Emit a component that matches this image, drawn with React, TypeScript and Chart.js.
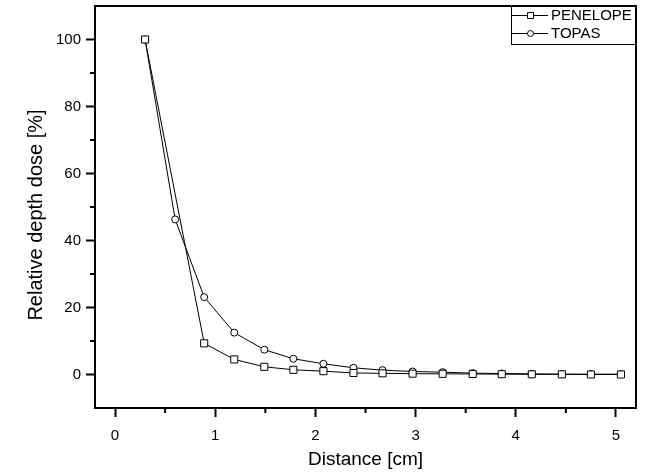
import React, { useEffect, useRef } from "react";
import { Chart, registerables } from "chart.js";

Chart.register(...registerables);

const seriesNames = ["PENELOPE", "TOPAS"];
const penelopeX = [0.3, 0.89, 1.19, 1.49, 1.78, 2.08, 2.38, 2.67, 2.97, 3.27, 3.57, 3.86, 4.16, 4.46, 4.75, 5.05];
const penelopeY = [100, 9.3, 4.5, 2.3, 1.4, 1.0, 0.45, 0.35, 0.25, 0.2, 0.15, 0.1, 0.05, 0.05, 0.0, 0.0];
const topasX = [0.3, 0.6, 0.89, 1.19, 1.49, 1.78, 2.08, 2.38, 2.67, 2.97, 3.27, 3.57, 3.86, 4.16, 4.46, 4.75, 5.05];
const topasY = [100, 46.3, 23.1, 12.5, 7.4, 4.7, 3.2, 2.0, 1.3, 0.9, 0.7, 0.4, 0.3, 0.2, 0.1, 0.1, 0.1];
const xTicks = [0, 1, 2, 3, 4, 5];
const yTicks = [0, 20, 40, 60, 80, 100];
const xMinorTicks = [0.5, 1.5, 2.5, 3.5, 4.5];
const yMinorTicks = [10, 30, 50, 70, 90];
const xTitle = "Distance [cm]";
const yTitle = "Relative depth dose [%]";

const FONT = "'Liberation Sans', Arial, sans-serif";

const extrasPlugin = {
  id: "extras",
  afterDraw(chart: any) {
    const { ctx, chartArea: a, scales } = chart;
    ctx.save();
    // frame
    ctx.strokeStyle = "#000";
    ctx.lineWidth = 2;
    ctx.strokeRect(a.left, a.top, a.right - a.left, a.bottom - a.top);
    // minor ticks
    ctx.beginPath();
    xMinorTicks.forEach((v) => {
      const px = scales.x.getPixelForValue(v);
      ctx.moveTo(px, a.bottom);
      ctx.lineTo(px, a.bottom + 5);
    });
    yMinorTicks.forEach((v) => {
      const py = scales.y.getPixelForValue(v);
      ctx.moveTo(a.left, py);
      ctx.lineTo(a.left - 5, py);
    });
    ctx.stroke();

    // y title
    ctx.save();
    ctx.translate(36, 215);
    ctx.rotate(-Math.PI / 2);
    ctx.font = `20px ${FONT}`;
    ctx.fillStyle = "#000";
    ctx.textAlign = "center";
    ctx.textBaseline = "middle";
    ctx.fillText(yTitle, 0, 0);
    ctx.restore();

    // legend box
    const bx = 511, by = a.top, bw = a.right - 511, bh = 44 - a.top;
    ctx.fillStyle = "#fff";
    ctx.fillRect(bx, by, bw, bh);
    ctx.lineWidth = 1;
    ctx.strokeStyle = "#000";
    ctx.strokeRect(bx + 0.5, by + 0.5, bw, bh);
    ctx.lineWidth = 2;
    ctx.strokeRect(a.left, a.top, a.right - a.left, a.bottom - a.top);

    const rows = [15, 33];
    ctx.font = `15px ${FONT}`;
    ctx.textAlign = "left";
    ctx.textBaseline = "middle";
    seriesNames.forEach((name, i) => {
      const y = rows[i] + 0.5;
      ctx.lineWidth = 1;
      ctx.strokeStyle = "#000";
      ctx.beginPath();
      ctx.moveTo(512, y);
      ctx.lineTo(548, y);
      ctx.stroke();
      ctx.fillStyle = "#fff";
      ctx.beginPath();
      if (i === 0) {
        ctx.rect(527.5, y - 3, 6, 6);
      } else {
        ctx.arc(530.5, y, 3, 0, Math.PI * 2);
      }
      ctx.fill();
      ctx.stroke();
      ctx.fillStyle = "#000";
      ctx.fillText(name, 551, y + 0.5);
    });
    ctx.restore();
  },
};

export default function App() {
  const ref = useRef<HTMLCanvasElement>(null);
  useEffect(() => {
    if (!ref.current) return;
    Chart.defaults.font.family = FONT;
    Chart.defaults.color = "#000";
    const chart = new Chart(ref.current, {
      type: "line",
      data: {
        datasets: [
          {
            label: seriesNames[0],
            data: penelopeX.map((x, i) => ({ x, y: penelopeY[i] })),
            borderColor: "#000",
            borderWidth: 1,
            pointStyle: "rect",
            pointRadius: 5,
            pointBackgroundColor: "#fff",
            pointBorderColor: "#000",
            pointBorderWidth: 1,
            tension: 0,
          },
          {
            label: seriesNames[1],
            data: topasX.map((x, i) => ({ x, y: topasY[i] })),
            borderColor: "#000",
            borderWidth: 1,
            pointStyle: "circle",
            pointRadius: 3.5,
            pointBackgroundColor: "#fff",
            pointBorderColor: "#000",
            pointBorderWidth: 1,
            tension: 0,
          },
        ],
      },
      options: {
        animation: false,
        responsive: false,
        devicePixelRatio: 1,
        layout: { padding: { top: 5, right: 20, left: 0, bottom: 0 } },
        plugins: { legend: { display: false }, tooltip: { enabled: false } },
        scales: {
          x: {
            type: "linear",
            min: -0.2,
            max: 5.2,
            afterBuildTicks: (s: any) => {
              s.ticks = xTicks.map((v) => ({ value: v }));
            },
            afterFit: (s: any) => {
              s.height = 65;
              s.paddingLeft = 0;
              s.paddingRight = 0;
            },
            grid: { drawOnChartArea: false, drawTicks: true, tickLength: 9, tickWidth: 2, tickColor: "#000" },
            border: { display: false },
            ticks: { autoSkip: false, maxRotation: 0, padding: 10, font: { size: 15 }, color: "#000", callback: (v: any) => String(v) },
            title: { display: true, text: xTitle, font: { size: 19 }, color: "#000", padding: { top: 0, bottom: 2 } },
          },
          y: {
            type: "linear",
            min: -10,
            max: 110,
            afterBuildTicks: (s: any) => {
              s.ticks = yTicks.map((v) => ({ value: v }));
            },
            afterFit: (s: any) => {
              s.width = 95;
              s.paddingTop = 0;
              s.paddingBottom = 0;
            },
            grid: { drawOnChartArea: false, drawTicks: true, tickLength: 9, tickWidth: 2, tickColor: "#000" },
            border: { display: false },
            ticks: { autoSkip: false, padding: 5, font: { size: 15 }, color: "#000", callback: (v: any) => String(v) },
          },
        },
      },
      plugins: [extrasPlugin],
    });
    return () => chart.destroy();
  }, []);
  return (
    <div style={{ position: "absolute", left: 0, top: 0, width: 656, height: 473, background: "#fff" }}>
      <canvas ref={ref} width={656} height={473} />
    </div>
  );
}
